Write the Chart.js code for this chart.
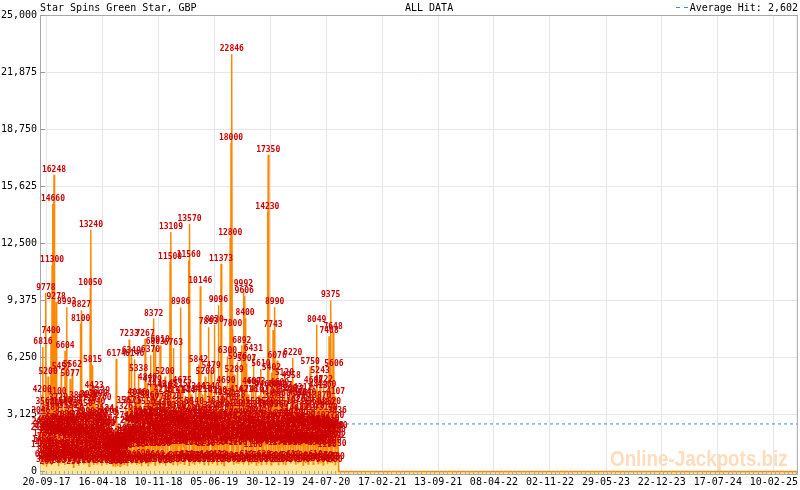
<!DOCTYPE html>
<html><head><meta charset="utf-8">
<script src="https://cdn.jsdelivr.net/npm/chart.js@4.4.1/dist/chart.umd.min.js"></script>
<style>html,body{margin:0;padding:0;background:#fff;}canvas{display:block;}</style>
</head><body>
<canvas id="c" width="800" height="490"></canvas>
<script>
const chartTitle = 'Star Spins Green Star, GBP';
const rangeLabel = 'ALL DATA';
const averageLabel = 'Average Hit: 2,602';
const averageHit = 2602;
const firstDate = '2017-08-27';
const lastDate = '2025-05-10';
const tickLabels = ['20-09-17','16-04-18','10-11-18','05-06-19','30-12-19','24-07-20','17-02-21','13-09-21','08-04-22','02-11-22','29-05-23','22-12-23','17-07-24','10-02-25'];
const yTicks = [0,3125,6250,9375,12500,15625,18750,21875,25000];

// larger hits: days since firstDate and amounts
const hitDays = [
1,3,6,8,11,13,16,19,22,24,27,30,33,35,
38,41,43,45,48,52,54,57,60,63,65,68,71,73,
76,79,82,85,88,91,93,96,99,101,104,107,109,
112,114,117,120,122,125,128,131,134,137,140,143,146,
149,151,154,157,160,163,166,169,172,175,178,181,184,
187,189,192,195,198,201,204,207,210,213,216,219,221,
224,227,230,233,236,239,242,245,248,251,254,257,259,
262,265,268,271,274,277,280,283,286,289,292,295,
298,301,304,307,310,313,316,319,322,325,328,331,333,
336,339,342,345,348,351,354,357,360,363,366,369,
372,375,378,381,384,387,390,393,396,399,402,405,407,
410,413,416,419,422,425,428,431,434,437,440,443,
446,449,452,455,458,461,464,467,470,473,476,479,
483,486,489,492,495,498,501,504,507,510,513,516,519,
522,525,528,531,534,537,540,543,546,549,552,555,
558,561,564,567,570,573,576,579,582,585,588,591,
595,598,601,604,607,610,613,616,619,622,625,628,
632,635,638,641,644,647,650,653,656,659,662,665,
669,672,675,678,681,684,687,690,693,696,699,702,
706,709,712,715,718,721,724,727,730,733,736,739,
743,746,749,752,755,758,761,764,767,770,773,776,
780,783,786,789,792,795,798,801,804,807,810,813,
817,820,823,826,829,832,835,838,841,844,847,850,853,
856,859,862,865,868,871,874,877,880,883,886,889,
892,895,898,901,904,907,910,913,916,919,922,925,
929,932,935,938,941,944,947,950,953,956,959,962,
966,969,972,975,978,981,984,987,990,993,996,999,
1003,1006,1009,1012,1015,1018,1021,1024,1027,1030,1033,1036,
1040,1043,1046,1049,1052,1055,1058,1061,1064,1067,1070,1073,
1076,1079,1082,1085,1088,1091,1094,1097,1100,1103,1106,
1109,2813];
const hitValues = [
2100,3046,1450,4200,6816,2300,880,3560,9778,2650,1210,5200,2030,640,
3180,7400,2200,11300,14660,16248,3400,1900,9278,4100,1320,3729,2550,520,
2100,5457,1700,3560,1100,2830,6604,2400,8993,1800,3320,960,2480,
5077,1500,3608,5562,2100,780,3150,1960,2750,620,1890,3880,1240,
2600,8100,8827,1650,3450,2080,760,2990,1520,3720,2360,890,3920,
10050,13240,2700,5815,1400,4423,2240,3540,1080,2880,3990,1600,2410,
4139,1900,3760,2620,870,3124,1760,2350,560,2910,1430,3064,1120,
1600,820,1450,309,1120,680,1390,6174,1250,520,1080,1580,
900,1460,328,1190,1640,2741,1350,3567,2080,1870,3261,7233,2480,
1590,6349,3575,1920,2640,6146,1360,2370,4046,1720,5338,2600,
3980,1450,2210,3055,2856,1210,7267,3550,2130,4840,1680,2720,3860,
6370,2240,4729,1560,8372,3210,6803,2560,4445,1900,2980,3770,
6910,2150,3440,1280,4215,2620,5200,3310,1870,4403,2830,1560,
11500,13109,3820,2390,6763,1680,4157,2600,3300,1370,4515,2040,3004,
8986,2210,4675,1850,3560,2670,4144,1440,3120,2250,11560,13570,
3210,4214,1750,2940,571,3540,2190,4344,1620,2830,5842,2470,
10146,3160,1980,4210,2540,540,5200,2710,1490,3020,7893,2320,
4340,5479,1860,3290,2660,8030,2090,3610,1740,4130,9096,2480,
3380,11373,2700,4032,1550,3186,2240,4690,1930,6300,2890,3760,
12800,18000,22846,7800,3420,5289,2150,3938,1640,5976,2940,4167,
1850,3448,6892,2550,9992,9606,8400,3120,5907,1980,4216,2680,
3550,1460,4607,2250,6431,3020,1720,4603,2810,3370,1560,4167,
2440,5610,1880,3150,2760,4460,1620,3540,2090,14230,17350,3400,4104,
2700,5402,1950,7743,3870,8990,2480,4491,6076,1770,3360,4600,
2150,3960,1480,4427,2890,5120,1640,3510,2270,4260,1390,3140,
2560,4958,1790,6220,2940,4177,1450,3620,2310,4050,1720,3280,
2080,3940,1520,4312,2650,3710,1380,2860,4040,1630,3210,2440,
5750,1920,3560,2370,4688,1560,3320,2740,8049,2150,4413,1840,
5243,2560,3870,1490,4722,2330,3480,1702,4460,2402,3190,7408,
2610,9375,3520,1930,7648,5606,2780,4107,1692,3036,2200,
0,0];

// smaller hits in between
const smallHitDays = [
2,5,7,10,12,14,17,20,23,25,28,31,
34,36,39,42,44,47,50,53,55,58,61,64,
66,69,72,75,77,80,83,86,89,92,95,97,
100,103,106,108,110,113,116,118,121,124,126,129,
132,135,138,141,144,147,150,153,156,159,162,165,
167,170,173,176,179,182,185,188,191,194,197,200,
203,206,209,212,215,218,220,223,226,229,232,235,
238,241,244,247,250,253,256,258,261,264,267,270,
273,276,279,282,285,288,291,294,297,300,303,306,
309,312,315,318,321,324,327,330,332,335,338,341,
344,347,350,353,356,359,362,365,368,371,374,377,
380,383,386,389,392,395,398,401,404,406,409,412,
415,418,421,424,427,430,433,436,439,442,445,448,
451,454,457,460,463,466,469,472,475,478,481,485,
488,491,494,497,500,503,506,509,512,515,518,521,
524,527,530,533,536,539,542,545,548,551,554,557,
560,563,566,569,572,575,578,581,584,587,590,593,
597,600,603,606,609,612,615,618,621,624,627,630,
634,637,640,643,646,649,652,655,658,661,664,667,
671,674,677,680,683,686,689,692,695,698,701,704,
708,711,714,717,720,723,726,729,732,735,738,741,
745,748,751,754,757,760,763,766,769,772,775,778,
782,785,788,791,794,797,800,803,806,809,812,815,
819,822,825,828,831,834,837,840,843,846,849,852,
855,858,861,864,867,870,873,876,879,882,885,888,
891,894,897,900,903,906,909,912,915,918,921,924,
927,931,934,937,940,943,946,949,952,955,958,961,
964,968,971,974,977,980,983,986,989,992,995,998,
1001,1005,1008,1011,1014,1017,1020,1023,1026,1029,1032,1035,
1038,1042,1045,1048,1051,1054,1057,1060,1063,1066,1069,1072,
1075,1078,1081,1084,1087,1090,1093,1096,1099,1102,1105];
const smallHitValues = [
1180,2420,620,1760,380,1340,2210,540,1620,260,820,1940,
460,2680,980,2120,340,760,2360,1890,610,1170,2040,560,
1830,290,1260,480,2160,870,2780,840,1980,350,2510,1020,
710,2470,660,1890,420,1230,2040,570,1680,230,1120,2290,
540,730,2380,1860,310,2650,1420,640,690,1770,380,1180,
2020,860,450,2730,1310,290,1690,1940,530,1120,2070,360,
2560,740,1870,420,1010,2740,630,2180,1450,310,1260,1920,
580,2330,1100,370,2510,960,1850,420,1210,640,1070,880,
1340,505,1180,260,1420,306,1090,640,290,1510,830,1390,
1120,400,580,1930,1440,320,1560,1880,620,2470,1760,390,
1380,2650,520,2010,1190,360,1630,2870,450,1960,2540,280,
2210,690,2780,1360,410,1540,2920,330,1860,2610,470,2200,
1750,580,1310,2460,350,2140,1930,640,1420,2330,380,2860,
1250,2050,460,2540,1370,310,1780,2930,540,2280,1740,420,
2620,1430,380,1860,2750,590,2380,1650,330,1390,2470,460,
2310,570,2840,1330,390,1720,2560,610,2190,1610,340,1880,
1450,2270,480,2590,1310,360,1820,2710,571,2160,1540,420,
1760,540,1350,2120,380,2860,1230,640,1680,2540,330,2230,
1870,2690,450,2150,1720,560,1280,2070,370,2800,1390,620,
1940,400,2610,1720,330,1490,2060,590,2740,1350,460,1670,
2450,540,2220,1370,360,1640,2110,480,2560,1290,410,1760,
2050,530,2720,1430,380,1870,2500,610,2140,1690,340,1560,
2310,460,1960,1180,570,1620,2290,350,1840,1530,440,1370,
1980,380,2350,1540,620,1390,2640,410,2240,1450,530,1830,
2410,360,2070,1690,470,1440,2190,590,2830,1270,380,1650,
2250,510,2710,1330,420,1860,2480,340,2020,1740,560,1380,
2170,430,2440,1310,610,1790,2690,370,2280,1550,490,1350,
2210,580,2470,1400,340,1830,2620,460,2350,1590,402,1470,
2380,520,2140,1510,390,1340,2230,610,2490,1300,440,1640,
2520,450,2190,1780,360,1360,2280,570,2430,1190,402,1730,
2340,520,2150,1390,460,1670,2230,380,1980,1250,530];

const DAY = 86400000;
const t0 = Date.parse(firstDate);
const dayOf = s => Math.round((Date.parse(s) - t0) / DAY);
const labelToIso = l => '20' + l.slice(6, 8) + '-' + l.slice(3, 5) + '-' + l.slice(0, 2);
const tickDays = tickLabels.map(l => dayOf(labelToIso(l)));
const xMax = dayOf(lastDate);

const hitPoints = hitDays.map((d, i) => ({ x: d, y: hitValues[i] }))
  .concat(smallHitDays.map((d, i) => ({ x: d, y: smallHitValues[i] })))
  .sort((a, b) => a.x - b.x);
const avgPoints = [{ x: 0, y: averageHit }, { x: xMax, y: averageHit }];

const MONO = '"DejaVu Sans Mono", monospace';
Chart.defaults.font.family = MONO;
Chart.defaults.font.size = 10;
Chart.defaults.color = '#000';

const decor = {
  id: 'decor',
  beforeDatasetsDraw(chart) {
    const { ctx } = chart;
    ctx.save();
    ctx.fillStyle = '#fedcbc';
    ctx.font = 'bold 22px "Liberation Sans", Arial, sans-serif';
    ctx.textBaseline = 'alphabetic';
    ctx.translate(610, 466);
    ctx.scale(0.855, 1);
    ctx.fillText('Online-Jackpots.biz', 0, 0);
    ctx.restore();
  },
  afterDatasetsDraw(chart) {
    const { ctx, chartArea: a, scales } = chart;
    const xs = scales.x, ys = scales.y;
    const meta = chart.getDatasetMeta(1);
    const pts = chart.data.datasets[1].data;
    ctx.save();
    ctx.fillStyle = '#cc0000';
    ctx.font = 'bold 8px ' + MONO;
    ctx.textAlign = 'center';
    ctx.textBaseline = 'bottom';
    meta.data.forEach((el, i) => {
      const v = pts[i].y;
      if (v > 0) ctx.fillText(String(v), el.x, el.y - 1);
    });
    ctx.restore();
    ctx.save();
    ctx.strokeStyle = '#a8a8a8';
    ctx.lineWidth = 1;
    ctx.beginPath();
    ctx.moveTo(a.left, a.top + 0.5); ctx.lineTo(a.right, a.top + 0.5);
    ctx.moveTo(a.right - 0.5, a.top); ctx.lineTo(a.right - 0.5, a.bottom);
    ctx.stroke();
    ctx.strokeStyle = '#999';
    ctx.beginPath();
    yTicks.forEach(v => {
      const y = Math.round(ys.getPixelForValue(v)) + 0.5;
      ctx.moveTo(a.left, y); ctx.lineTo(a.left + 5, y);
    });
    ctx.stroke();
    ctx.strokeStyle = '#aaa';
    ctx.beginPath();
    for (let d = tickDays[0] - 16; d <= xMax; d += 16) {
      if (d < 0) continue;
      const x = Math.round(xs.getPixelForValue(d)) + 0.5;
      ctx.moveTo(x, a.bottom); ctx.lineTo(x, a.bottom - 3);
    }
    ctx.stroke();
    ctx.restore();
  },
  afterDraw(chart) {
    const { ctx } = chart;
    ctx.save();
    ctx.font = '10px ' + MONO;
    ctx.fillStyle = '#000';
    ctx.textBaseline = 'alphabetic';
    ctx.textAlign = 'left';
    ctx.fillText(chartTitle, 40, 11);
    ctx.fillText(rangeLabel, 405, 11);
    ctx.textAlign = 'right';
    ctx.fillText(averageLabel, 798, 11);
    ctx.strokeStyle = '#3d8fc2';
    ctx.beginPath();
    ctx.moveTo(676, 7.5); ctx.lineTo(680, 7.5);
    ctx.moveTo(684, 7.5); ctx.lineTo(688, 7.5);
    ctx.stroke();
    ctx.restore();
  }
};

new Chart(document.getElementById('c'), {
  type: 'line',
  data: {
    datasets: [
      {
        label: 'Average',
        data: avgPoints,
        borderColor: '#3d8fc2',
        borderWidth: 1,
        borderDash: [3, 3],
        pointRadius: 0,
        fill: false,
        order: 0
      },
      {
        label: 'Hits',
        data: hitPoints,
        borderColor: '#ff8800',
        backgroundColor: '#ffe596',
        borderWidth: 1.5,
        pointRadius: 0,
        tension: 0,
        fill: 'start',
        order: 1
      }
    ]
  },
  options: {
    responsive: false,
    animation: false,
    events: [],
    layout: { padding: { top: 15, right: 2, left: 0, bottom: 0 } },
    plugins: { legend: { display: false }, tooltip: { enabled: false }, title: { display: false } },
    scales: {
      x: {
        type: 'linear',
        min: 0,
        max: xMax,
        afterBuildTicks(axis) { axis.ticks = tickDays.map(v => ({ value: v })); },
        afterFit(axis) { axis.height = 16; },
        ticks: {
          autoSkip: false,
          maxRotation: 0,
          padding: 2,
          callback(v) { const i = tickDays.indexOf(v); return i >= 0 ? tickLabels[i] : ''; }
        },
        grid: { color: '#e6e6e6', drawTicks: false },
        border: { color: '#a8a8a8' }
      },
      y: {
        min: -140,
        max: 25000,
        afterBuildTicks(axis) { axis.ticks = yTicks.map(v => ({ value: v })); },
        afterFit(axis) { axis.width = 40; },
        ticks: {
          padding: 3,
          callback(v) { return v.toLocaleString('en-US'); }
        },
        grid: { color: '#e6e6e6', drawTicks: false },
        border: { color: '#a8a8a8' }
      }
    }
  },
  plugins: [decor]
});
</script>
</body></html>
